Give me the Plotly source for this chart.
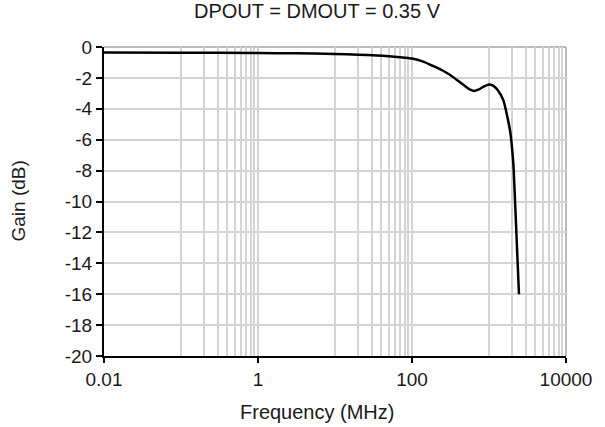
import plotly.graph_objects as go

# Data
freq_mhz = [0.01, 0.1, 1, 3, 10, 20, 35, 50, 70, 100, 140, 190, 250, 310, 380,
            465, 550, 640, 740, 840, 1000, 1130, 1280, 1535, 1875, 2070,
            2180, 2450]
gain_db = [-0.36, -0.37, -0.39, -0.41, -0.45, -0.5, -0.55, -0.6, -0.66, -0.75,
           -0.95, -1.24, -1.52, -1.8, -2.12, -2.45, -2.72, -2.84, -2.74, -2.58,
           -2.42, -2.5, -2.75, -3.44, -5.4, -7.55, -10.0, -16.0]

x_major_ticks = [0.01, 1, 100, 10000]
x_major_labels = ["0.01", "1", "100", "10000"]
x_minor_ticks = [0.1, 0.2, 0.3, 0.4, 0.5, 0.6, 0.7, 0.8, 0.9,
                 10, 20, 30, 40, 50, 60, 70, 80, 90,
                 1000, 2000, 3000, 4000, 5000, 6000, 7000, 8000, 9000]
y_ticks = [0, -2, -4, -6, -8, -10, -12, -14, -16, -18, -20]
y_labels = ["0", "-2", "-4", "-6", "-8", "-10", "-12", "-14", "-16", "-18", "-20"]

title_text = "DPOUT = DMOUT = 0.35 V"
x_title = "Frequency (MHz)"
y_title = "Gain (dB)"

FONT = "Liberation Sans, Arial, sans-serif"
TXT = "#1a1a1a"
GRID = "#d4d4d4"

fig = go.Figure()
fig.add_trace(go.Scatter(
    x=freq_mhz, y=gain_db, mode="lines",
    line=dict(color="black", width=2.5, shape="spline", smoothing=0.5),
    showlegend=False, hoverinfo="skip",
))

fig.update_layout(
    width=605, height=427,
    margin=dict(l=104, r=39, t=47, b=71),
    paper_bgcolor="white", plot_bgcolor="white",
    font=dict(family=FONT, size=19, color=TXT),
    showlegend=False,
    shapes=[
        dict(type="line", xref="paper", yref="paper", x0=0, x1=1, y0=1, y1=1,
             line=dict(color="#a6a6a6", width=1.5), layer="below"),
        dict(type="line", xref="paper", yref="paper", x0=1, x1=1, y0=0, y1=1,
             line=dict(color="#a6a6a6", width=1.5), layer="below"),
    ],
    annotations=[
        dict(text=title_text, xref="paper", yref="paper",
             x=(317 - 104) / 462, y=1, yshift=36, xanchor="center", yanchor="middle",
             showarrow=False, font=dict(family=FONT, size=20, color=TXT)),
        dict(text=x_title, xref="paper", yref="paper",
             x=(317 - 104) / 462, y=0, yshift=-56, xanchor="center", yanchor="middle",
             showarrow=False, font=dict(family=FONT, size=20, color=TXT)),
        dict(text=y_title, xref="paper", yref="paper",
             x=0, xshift=-86, y=0.5, xanchor="center", yanchor="middle",
             textangle=-90, showarrow=False, font=dict(family=FONT, size=19, color=TXT)),
    ],
)

fig.update_xaxes(
    type="log", range=[-2, 4],
    tickmode="array", tickvals=x_major_ticks, ticktext=x_major_labels,
    showgrid=True, gridcolor=GRID, gridwidth=1.5,
    showline=True, linecolor="black", linewidth=2,
    ticks="outside", ticklen=5, tickwidth=1.5, tickcolor="black",
    minor=dict(tickmode="array", tickvals=x_minor_ticks, showgrid=True,
               gridcolor=GRID, gridwidth=1.5, ticks=""),
    zeroline=False, tickfont=dict(size=19, color=TXT),
)
fig.update_yaxes(
    range=[-20, 0],
    tickmode="array", tickvals=y_ticks, ticktext=y_labels,
    showgrid=True, gridcolor=GRID, gridwidth=1.5,
    showline=True, linecolor="black", linewidth=2,
    ticks="outside", ticklen=6, tickwidth=1.5, tickcolor="black",
    zeroline=False, tickfont=dict(size=19, color=TXT),
)

fig.write_html("out.html", config={"displayModeBar": False},
               post_script="document.body.style.margin='0';")
